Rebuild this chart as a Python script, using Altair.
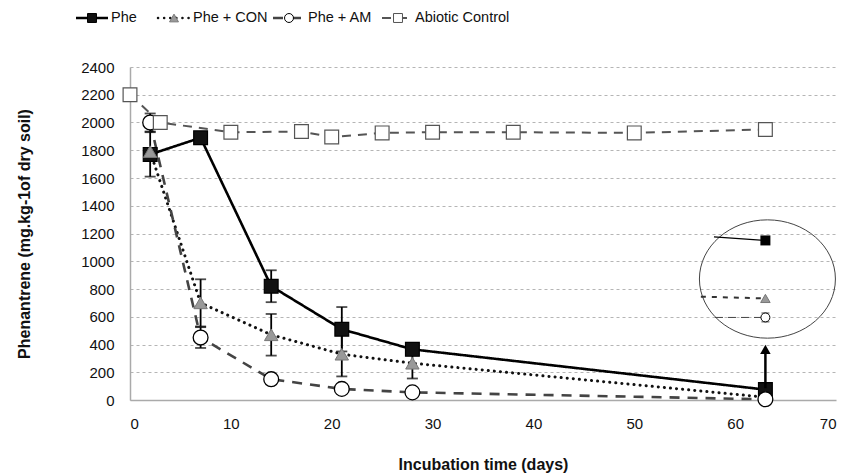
import altair as alt
import pandas as pd

# ---------------- data ----------------
days = [2, 7, 14, 21, 28, 63]
phe = [1770, 1890, 820, 510, 365, 75]
phe_err = [160, 20, 115, 160, 40, 0]
con = [1790, 700, 470, 330, 265, 20]
con_err = [0, 170, 150, 160, 110, 0]
am = [2000, 450, 150, 80, 55, 5]
am_err = [65, 75, 0, 0, 0, 0]
abiotic_days = [0, 3, 10, 17, 20, 25, 30, 38, 50, 63]
abiotic = [2200, 2000, 1930, 1935, 1895, 1925, 1930, 1930, 1925, 1950]
abiotic_err = [0] * 10

series_names = ["Phe", "Phe + CON", "Phe + AM", "Abiotic Control"]
x_ticks = [0, 10, 20, 30, 40, 50, 60, 70]
y_ticks = [0, 200, 400, 600, 800, 1000, 1200, 1400, 1600, 1800, 2000, 2200, 2400]

# zoomed inset (annotation) values, in data units
inset_center = [63.2, 872]
inset_phe_days = [57.9, 63.0]
inset_phe_vals = [1176, 1150]
inset_con_days = [56.6, 63.0]
inset_con_vals = [745, 732]
inset_am_days = [58.0, 63.0]
inset_am_vals = [595, 595]
inset_am_err = 32
arrow_day = 63.0
arrow_from = 85
arrow_to = 365

FONT = "Liberation Sans"
W, H = 706, 333
LBL = 15
LEG = 14.5
TTL = 16

x_scale = alt.Scale(domain=[0, 70], nice=False, zero=False)
y_scale = alt.Scale(domain=[0, 2400], nice=False, zero=True)

x_axis = alt.Axis(values=x_ticks, grid=False, ticks=False, domainColor="#aaaaaa", domainWidth=1.5,
                  labelFont=FONT, labelFontSize=LBL, labelColor="#111111", labelPadding=16,
                  title="Incubation time (days)", titleFont=FONT, titleFontSize=TTL,
                  titleFontWeight="bold", titleColor="#111111", titlePadding=25)
y_axis = alt.Axis(values=y_ticks, grid=True, gridDash=[3, 3], gridColor="#b5b5b5", gridWidth=1,
                  ticks=False, domainColor="#aaaaaa", domainWidth=1.5, format="d",
                  labelFont=FONT, labelFontSize=LBL, labelColor="#111111", labelPadding=16,
                  title="Phenantrene (mg.kg-1of dry soil)", titleFont=FONT, titleFontSize=TTL,
                  titleFontWeight="bold", titleColor="#111111", titleX=-98)


def X(field="day"):
    return alt.X(f"{field}:Q", scale=x_scale, axis=x_axis)


def Y(field="value"):
    return alt.Y(f"{field}:Q", scale=y_scale, axis=y_axis)


styles = {
    "Phe": dict(line="#000000", lw=2.6, dash=[1, 0], cap="butt", shape="square",
                fill="#111111", stroke="#000000", size=190, sw=1.2),
    "Phe + CON": dict(line="#111111", lw=3, dash=[0.1, 6], cap="round", shape="triangle-up",
                      fill="#999999", stroke="#777777", size=180, sw=1),
    "Phe + AM": dict(line="#444444", lw=2.6, dash=[10, 8], cap="butt", shape="circle",
                     fill="#ffffff", stroke="#000000", size=220, sw=1.3),
    "Abiotic Control": dict(line="#555555", lw=2, dash=[9, 7], cap="butt", shape="square",
                            fill="#ffffff", stroke="#555555", size=190, sw=1.2),
}

series_data = {
    "Phe": (days, phe, phe_err),
    "Phe + CON": (days, con, con_err),
    "Phe + AM": (days, am, am_err),
    "Abiotic Control": (abiotic_days, abiotic, abiotic_err),
}

line_layers, err_layers, point_layers = [], [], []
for name in series_names:
    d, v, e = series_data[name]
    s = styles[name]
    df = pd.DataFrame({"day": d, "value": v, "err": e})
    df["lo"] = df["value"] - df["err"]
    df["hi"] = df["value"] + df["err"]
    line_layers.append(
        alt.Chart(df).mark_line(color=s["line"], strokeWidth=s["lw"], strokeDash=s["dash"],
                                strokeCap=s["cap"]).encode(x=X(), y=Y())
    )
    edf = df[df["err"] > 0]
    if len(edf):
        err_layers.append(alt.Chart(edf).mark_rule(color="#000000", strokeWidth=1.8)
                          .encode(x=X(), y=Y("lo"), y2="hi:Q"))
        for f in ["lo", "hi"]:
            err_layers.append(alt.Chart(edf).mark_tick(orient="horizontal", size=11, thickness=1.8,
                                                       color="#000000").encode(x=X(), y=Y(f)))
    point_layers.append(
        alt.Chart(df).mark_point(shape=s["shape"], filled=True, fill=s["fill"], stroke=s["stroke"],
                                 strokeWidth=s["sw"], size=s["size"], opacity=1)
        .encode(x=X(), y=Y())
    )

# ---------------- inset annotation ----------------
inset = []
inset.append(alt.Chart(pd.DataFrame({"day": [inset_center[0]], "value": [inset_center[1]]}))
             .mark_point(shape="M-1,0A1,0.87 0 1,1 1,0A1,0.87 0 1,1 -1,0Z", size=136 * 136,
                         filled=False, stroke="#444444", strokeWidth=1, opacity=1)
             .encode(x=X(), y=Y()))
inset.append(alt.Chart(pd.DataFrame({"day": inset_phe_days, "value": inset_phe_vals}))
             .mark_line(color="#000000", strokeWidth=1.3).encode(x=X(), y=Y()))
inset.append(alt.Chart(pd.DataFrame({"day": inset_con_days, "value": inset_con_vals}))
             .mark_line(color="#333333", strokeWidth=2, strokeDash=[5, 6]).encode(x=X(), y=Y()))
inset.append(alt.Chart(pd.DataFrame({"day": inset_am_days, "value": inset_am_vals}))
             .mark_line(color="#444444", strokeWidth=1, strokeDash=[8, 5]).encode(x=X(), y=Y()))
am_end = pd.DataFrame({"day": [inset_am_days[-1]], "value": [inset_am_vals[-1]],
                       "lo": [inset_am_vals[-1] - inset_am_err], "hi": [inset_am_vals[-1] + inset_am_err]})
inset.append(alt.Chart(am_end).mark_rule(color="#000000", strokeWidth=1).encode(x=X(), y=Y("lo"), y2="hi:Q"))
for f in ["lo", "hi"]:
    inset.append(alt.Chart(am_end).mark_tick(orient="horizontal", size=8, thickness=1, color="#000000")
                 .encode(x=X(), y=Y(f)))
inset.append(alt.Chart(pd.DataFrame({"day": [inset_phe_days[-1]], "value": [inset_phe_vals[-1]]}))
             .mark_point(shape="square", filled=True, fill="#000000", size=100, opacity=1)
             .encode(x=X(), y=Y()))
inset.append(alt.Chart(pd.DataFrame({"day": [inset_con_days[-1]], "value": [inset_con_vals[-1]]}))
             .mark_point(shape="triangle-up", filled=True, fill="#999999", stroke="#777777",
                         strokeWidth=1, size=90, opacity=1)
             .encode(x=X(), y=Y()))
inset.append(alt.Chart(am_end).mark_point(shape="circle", filled=True, fill="#ffffff", stroke="#000000",
                                          strokeWidth=1, size=80, opacity=1).encode(x=X(), y=Y()))
arrow_df = pd.DataFrame({"day": [arrow_day], "value": [arrow_from], "top": [arrow_to]})
inset.append(alt.Chart(arrow_df).mark_rule(color="#000000", strokeWidth=2.5)
             .encode(x=X(), y=Y(), y2="top:Q"))
inset.append(alt.Chart(arrow_df).mark_point(shape="triangle-up", filled=True, fill="#000000",
                                            size=110, opacity=1)
             .encode(x=X(), y=Y("top")))

# ---------------- legend (manual, top) ----------------
PAD_L = 130
legend_sym_x = [92, 174, 289, 398]
legend_txt_x = [111, 193, 308, 415]
LEG_Y = 18 - 67
legend = []
for name, sx, tx in zip(series_names, legend_sym_x, legend_txt_x):
    s = styles[name]
    one = alt.Data(values=[{"label": name}])
    cx = sx - PAD_L
    legend.append(alt.Chart(one).mark_rule(color=s["line"], strokeWidth=min(s["lw"], 2.5),
                                           strokeDash=s["dash"], strokeCap=s["cap"])
                  .encode(x=alt.value(cx - 16), x2=alt.value(cx + 16), y=alt.value(LEG_Y)))
    legend.append(alt.Chart(one).mark_point(shape=s["shape"], filled=True, fill=s["fill"],
                                            stroke=s["stroke"], strokeWidth=1, size=80, opacity=1)
                  .encode(x=alt.value(cx), y=alt.value(LEG_Y)))
    legend.append(alt.Chart(one).mark_text(align="left", baseline="middle", font=FONT, fontSize=LEG,
                                           color="#111111")
                  .encode(x=alt.value(tx - PAD_L), y=alt.value(LEG_Y), text="label:N"))

chart = alt.layer(*line_layers, *err_layers, *point_layers, *inset, *legend).properties(
    width=W, height=H,
    autosize=alt.AutoSizeParams(type="none"),
    padding={"left": PAD_L, "top": 67, "right": 14, "bottom": 76},
    background="#ffffff",
).configure_view(stroke=None).configure_axis(labelFont=FONT, titleFont=FONT)

chart.save("out.html", embed_options={"renderer": "svg", "actions": False})
